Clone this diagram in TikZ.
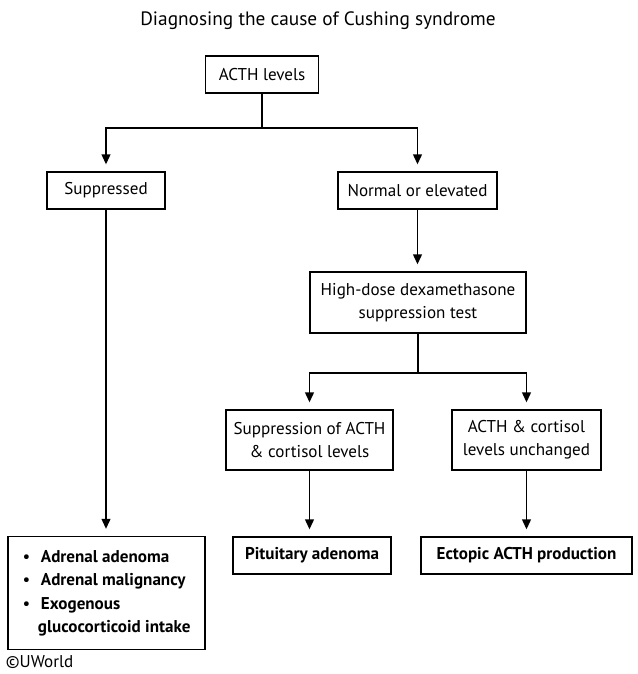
\documentclass[tikz,border=0pt]{standalone}
\usepackage{fontspec}
\setmainfont{PT Sans}
\usetikzlibrary{arrows.meta}

\tikzset{every picture/.style={line width=1.4pt}}
\tikzset{
  box/.style={draw, line width=1.4pt, inner sep=0pt, align=center, font=\fontsize{12.8}{17}\selectfont},
  boldbox/.style={box, font=\fontsize{12.8}{17}\selectfont\bfseries},
  arr/.style={-{Triangle[width=6.5pt,length=7.5pt]}, shorten >=5pt},
}

\begin{document}
\begin{tikzpicture}[x=0.75pt,y=0.75pt,yscale=-1,xscale=1]
\path[use as bounding box] (0,0) rectangle (637,674); %set diagram size to the reference

% Text Node
\node (title) at (318,21) {\fontsize{14.5}{16}\selectfont Diagnosing the cause of Cushing syndrome};

% Boxes
\node [box, minimum width=84.75pt, minimum height=27.75pt] (acth) at (262,74.5) {ACTH levels};
\node [box, minimum width=88.5pt, minimum height=27.75pt] (supp) at (106,190.5) {Suppressed};
\node [box, minimum width=119.25pt, minimum height=27.75pt] (norm) at (417.5,190.5) {Normal or elevated};
\node [box, minimum width=162pt, minimum height=45.75pt] (hdd) at (418,302.5) {High-dose dexamethasone\\suppression test};
\node [box, minimum width=125.25pt, minimum height=45pt] (acthsupp) at (309.5,440) {Suppression of ACTH\\\& cortisol levels};
\node [box, minimum width=111.75pt, minimum height=45pt] (unch) at (526.5,440) {ACTH \& cortisol\\levels unchanged};
\node [boldbox, minimum width=118.5pt, minimum height=27.75pt] (pit) at (312,555.5) {Pituitary adenoma};
\node [boldbox, minimum width=158.25pt, minimum height=27.75pt] (ect) at (526.5,555.5) {Ectopic ACTH production};
\node [box, minimum width=147.75pt, minimum height=84.75pt, font=\fontsize{12.8}{17.6}\selectfont] (adr) at (106.5,593)
  {\begin{tabular}{@{}l@{\hspace{8pt}}l@{}}
   \textbullet & \textbf{Adrenal adenoma}\\
   \textbullet & \textbf{Adrenal malignancy}\\
   \textbullet & \textbf{Exogenous}\\
   & \hspace*{-2.25pt}\textbf{glucocorticoid intake}
   \end{tabular}};

% Text Node
\node [anchor=west, inner sep=0pt, font=\fontsize{12.8}{14}\selectfont] (uw) at (5,662) {©UWorld};

% Split points
\coordinate (split1) at (262,128);
\coordinate (split2) at (418,373);

%Straight Lines
\draw (acth.south) -- (split1);
\draw [arr] (split1) -| (supp.north);
\draw [arr] (split1) -| (norm.north);
\draw [arr] (norm.south) -- (norm.south |- hdd.north);
\draw (hdd.south) -- (split2);
\draw [arr] (split2) -| (acthsupp.north);
\draw [arr] (split2) -| (unch.north);
\draw [arr] (supp.south) -- (supp.south |- adr.north);
\draw [arr] (acthsupp.south) -- (acthsupp.south |- pit.north);
\draw [arr] (unch.south) -- (unch.south |- ect.north);

\end{tikzpicture}
\end{document}
